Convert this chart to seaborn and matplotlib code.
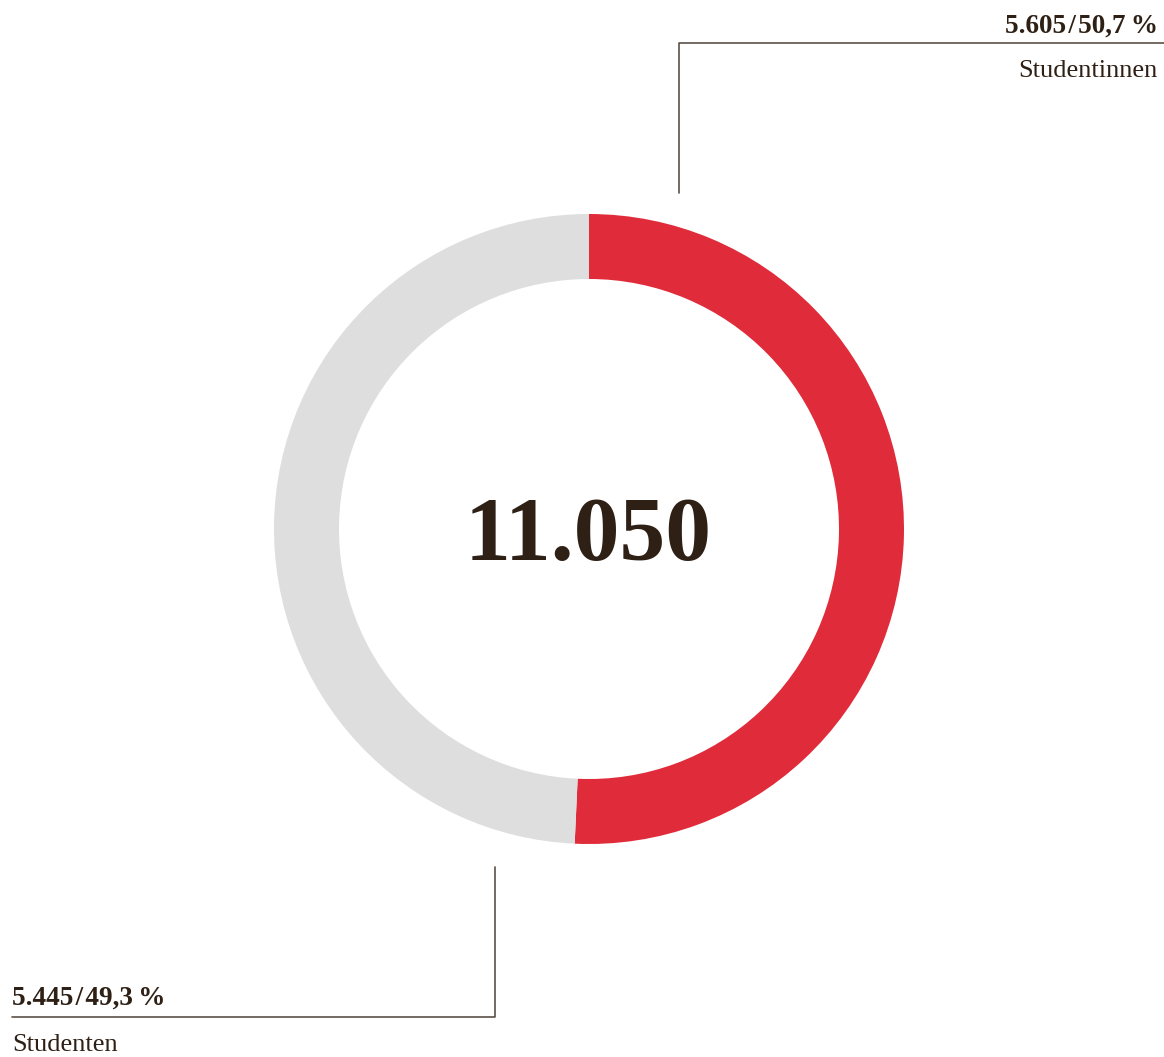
import matplotlib
matplotlib.use("Agg")
import matplotlib.pyplot as plt
import seaborn as sns

# data
categories = ["Studentinnen", "Studenten"]
counts = [5605, 5445]
shares = ["50,7", "49,3"]
total_label = "11.050"

colors = ["#E02B3A", "#DEDEDE"]
text_col = "#2E2015"
line_col = "#5B5048"

sns.set_theme(style="white")
plt.rcParams["font.family"] = ["Liberation Serif", "DejaVu Serif"]

W, H = 1164, 1057
fig = plt.figure(figsize=(W / 100, H / 100), dpi=100)
ax = fig.add_axes([0, 0, 1, 1])

# donut, clockwise from the top
ax.pie(counts, colors=colors, startangle=90, counterclock=False,
       center=(589, H - 529), radius=315,
       wedgeprops=dict(width=65, linewidth=0, antialiased=True))
ax.set_xlim(0, W)
ax.set_ylim(0, H)
ax.set_aspect("auto")
ax.axis("off")

def lbl(n, p):
    return f"{n:,}".replace(",", ".") + "\u200a/\u200a" + p + "\u2009%"

# centre total
ax.text(588, H - 560, total_label, ha="center", va="baseline",
        fontsize=66, fontweight="bold", color=text_col)

# top right label (women)
ax.plot([679, 679, W], [H - 193, H - 43, H - 43], color=line_col, lw=1.2)
ax.text(1158, H - 33, lbl(counts[0], shares[0]), ha="right", va="baseline",
        fontsize=19.5, fontweight="bold", color=text_col)
ax.text(1158, H - 77, categories[0], ha="right", va="baseline",
        fontsize=19, color=text_col)

# bottom left label (men)
ax.plot([495, 495, 12], [H - 867, H - 1017, H - 1017], color=line_col, lw=1.2)
ax.text(12, H - 1005, lbl(counts[1], shares[1]), ha="left", va="baseline",
        fontsize=19.5, fontweight="bold", color=text_col)
ax.text(12, H - 1051, categories[1], ha="left", va="baseline",
        fontsize=19, color=text_col)

fig.savefig("out.png", dpi=100, facecolor="white")
